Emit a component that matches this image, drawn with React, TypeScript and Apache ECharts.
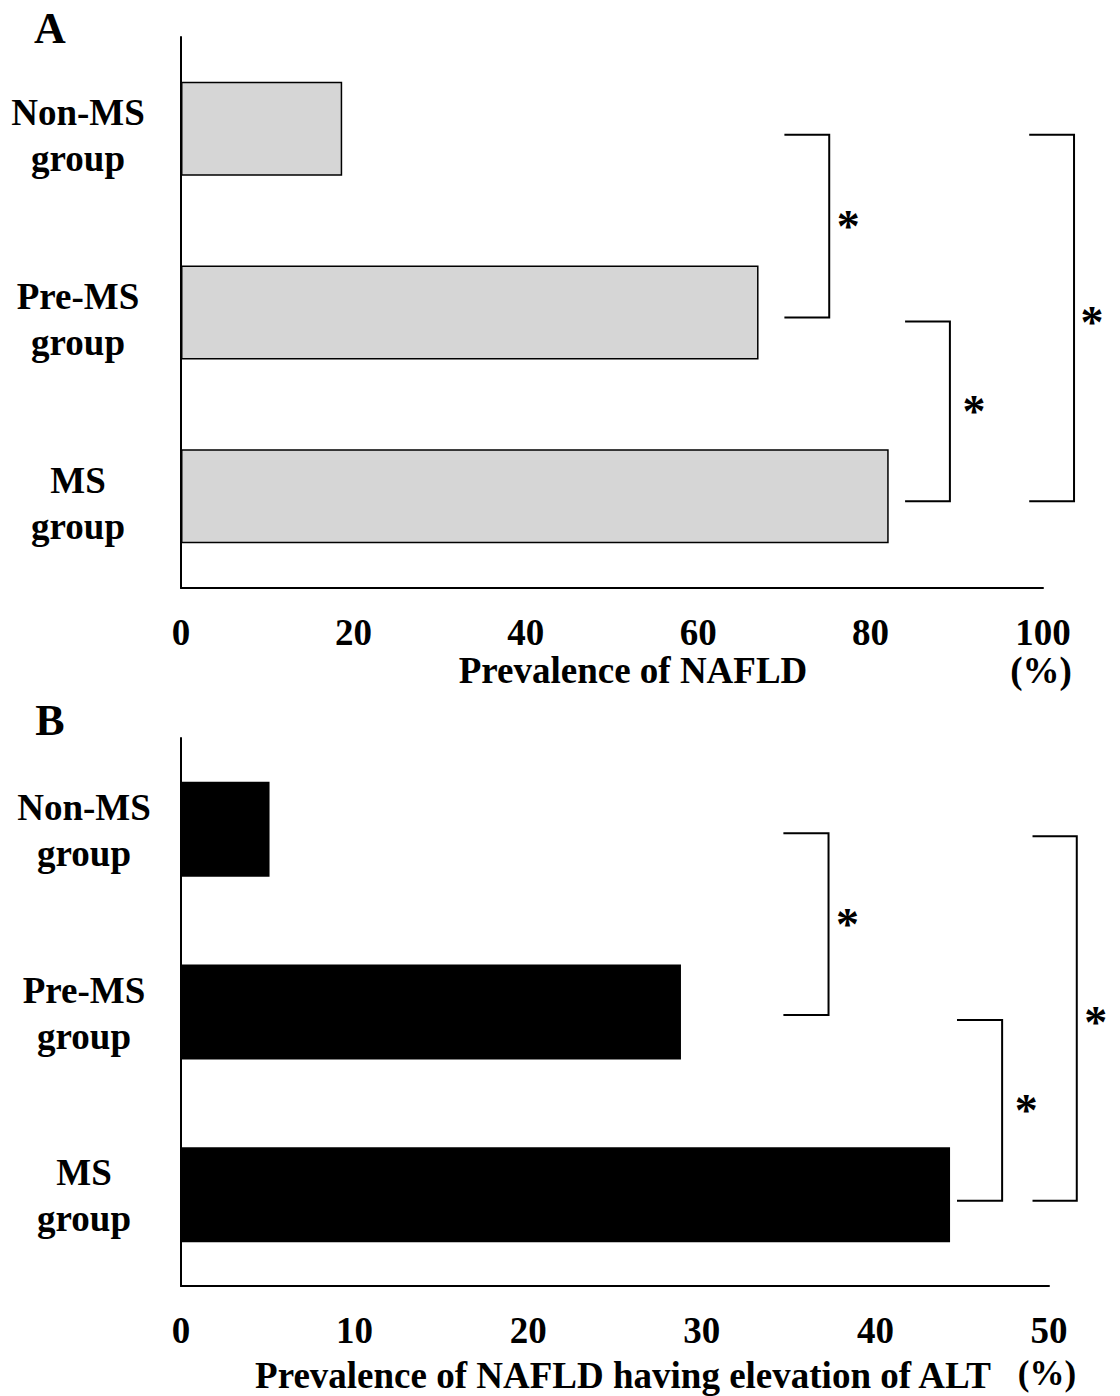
import React, { useEffect, useRef } from "react";
import * as echarts from "echarts";

const categories = ["Non-MS\ngroup", "Pre-MS\ngroup", "MS\ngroup"];
const nafldValues = [18.7, 67.0, 82.1];
const altValues = [5.1, 28.8, 44.3];
const axisMaxA = 100;
const axisIntervalA = 20;
const axisMaxB = 50;
const axisIntervalB = 10;
const titleA = "Prevalence of NAFLD";
const titleB = "Prevalence of NAFLD having elevation of ALT";
const unitLabel = "(%)";

// significance brackets: [fromCategoryIndex, toCategoryIndex, xStart, xEnd] in axis units
const bracketsA = [
  [0, 1, 70.0, 75.2],
  [1, 2, 84.0, 89.2],
  [0, 2, 98.4, 103.6],
];
const bracketsB = [
  [0, 1, 34.7, 37.3],
  [1, 2, 44.7, 47.3],
  [0, 2, 49.05, 51.6],
];

const FONT = "'Liberation Serif', 'Times New Roman', serif";

export default function App() {
  const ref = useRef<HTMLDivElement>(null);
  useEffect(() => {
    document.body.style.margin = "0";
    const chart = echarts.init(ref.current!, null, { renderer: "svg" });
    const labelStyle = {
      fontFamily: FONT,
      fontWeight: "bold" as const,
      fontSize: 37,
      color: "#000",
    };
    const xAxisCommon = {
      type: "value" as const,
      min: 0,
      axisLine: { show: true, lineStyle: { color: "#000", width: 2 } },
      axisTick: { show: false },
      splitLine: { show: false },
      axisLabel: { ...labelStyle, fontSize: 37, margin: 26 },
    };
    const yAxisCommon = {
      type: "category" as const,
      data: categories,
      inverse: true,
      axisLine: { show: true, lineStyle: { color: "#000", width: 2 } },
      axisTick: { show: false },
      axisLabel: {
        ...labelStyle,
        fontSize: 37,
        align: "center" as const,
        verticalAlign: "top" as const,
        lineHeight: 46,
        padding: [-39, 0, 0, 0],
      },
    };
    chart.setOption({
      animation: false,
      backgroundColor: "#fff",
      grid: [
        { left: 181, top: 37, width: 862, height: 551 },
        { left: 181, top: 738, width: 868, height: 548 },
      ],
      xAxis: [
        { ...xAxisCommon, gridIndex: 0, max: axisMaxA, interval: axisIntervalA },
        { ...xAxisCommon, gridIndex: 1, max: axisMaxB, interval: axisIntervalB },
      ],
      yAxis: [
        { ...yAxisCommon, gridIndex: 0, axisLabel: { ...yAxisCommon.axisLabel, margin: 103 } },
        { ...yAxisCommon, gridIndex: 1, axisLabel: { ...yAxisCommon.axisLabel, margin: 97, padding: [-45, 0, 0, 0] } },
      ],
      series: [
        {
          type: "bar",
          xAxisIndex: 0,
          yAxisIndex: 0,
          data: nafldValues,
          barWidth: 94,
          itemStyle: { color: "#d6d6d6", borderColor: "#000", borderWidth: 1.5 },
        },
        {
          type: "bar",
          xAxisIndex: 1,
          yAxisIndex: 1,
          data: altValues,
          barWidth: 95,
          itemStyle: { color: "#000" },
        },
      ],
    });

    // offsets: [topDy, bottomDy, starDx, starDy]
    const makeBrackets = (specs: number[][], gridIdx: number, offsets: number[][]) => {
      const els: any[] = [];
      specs.forEach((s, i) => {
        const [a, b, x0v, x1v] = s;
        const finder = { xAxisIndex: gridIdx, yAxisIndex: gridIdx };
        const pA = chart.convertToPixel(finder, [x0v, a]) as number[];
        const pB = chart.convertToPixel(finder, [x1v, b]) as number[];
        const x0 = pA[0];
        const x1 = pB[0];
        const yTop = pA[1] + offsets[i][0];
        const yBot = pB[1] + offsets[i][1];
        els.push({
          type: "polyline",
          shape: { points: [[x0, yTop], [x1, yTop], [x1, yBot], [x0, yBot]] },
          style: { stroke: "#000", lineWidth: 2, fill: "none" },
        });
        els.push({
          type: "text",
          x: x1 + offsets[i][2],
          y: (yTop + yBot) / 2 + offsets[i][3],
          style: {
            text: "*",
            font: `bold 46px ${FONT}`,
            fill: "#000",
            align: "center",
            verticalAlign: "middle",
          },
        });
      });
      return els;
    };

    const text = (str: string, x: number, y: number, size: number) => ({
      type: "text",
      x,
      y,
      style: {
        text: str,
        font: `bold ${size}px ${FONT}`,
        fill: "#000",
        align: "center",
        verticalAlign: "middle",
      },
    });

    chart.setOption({
      graphic: [
        text("A", 50, 28, 44),
        text("B", 50, 720, 44),
        text(titleA, 633, 670, 37),
        text(unitLabel, 1041, 670, 37),
        text(titleB, 623, 1375, 37),
        text(unitLabel, 1047, 1373, 35),
        ...makeBrackets(bracketsA, 0, [[6, 5, 19, 0], [9, 5, 24, 0], [6, 5, 18, 4]]),
        ...makeBrackets(bracketsB, 1, [[4, 3, 19, 0], [8, 6, 24, 0], [7, 6, 19, 4]]),
      ],
    });

    return () => chart.dispose();
  }, []);
  return <div ref={ref} style={{ width: 1120, height: 1396 }} />;
}
